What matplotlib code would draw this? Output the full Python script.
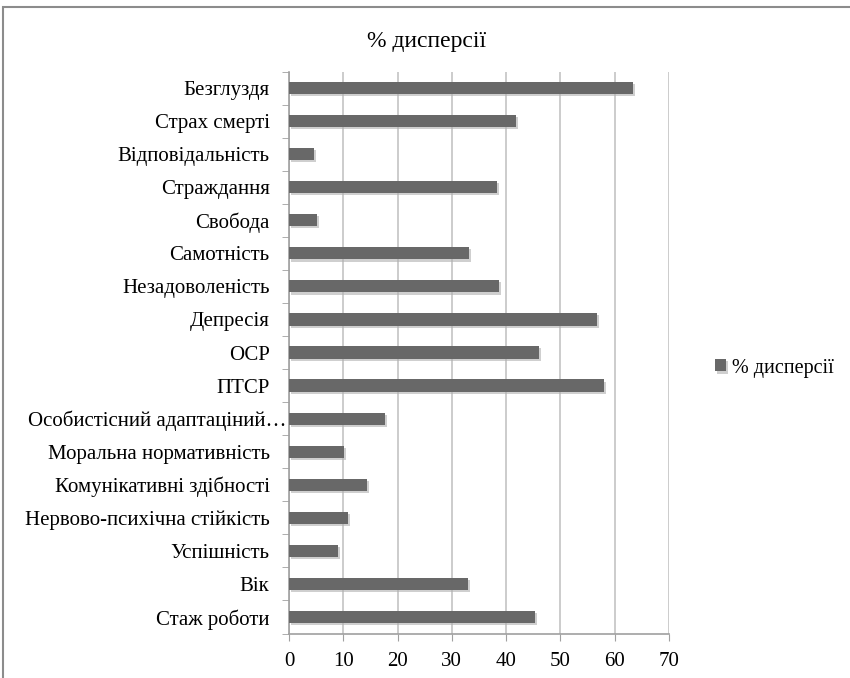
import matplotlib
matplotlib.use("Agg")
import matplotlib.pyplot as plt
import matplotlib.patheffects as pe
from matplotlib.patches import Rectangle
from matplotlib.ticker import FixedLocator

plt.rcParams['font.family'] = ['Liberation Serif', 'DejaVu Serif']

# data (top to bottom as shown)
categories = [
    "Безглуздя", "Страх смерті", "Відповідальність", "Страждання", "Свобода",
    "Самотність", "Незадоволеність", "Депресія", "ОСР", "ПТСР",
    "Особистісний адаптаціний…", "Моральна нормативність",
    "Комунікативні здібності", "Нервово-психічна стійкість", "Успішність",
    "Вік", "Стаж роботи",
]
values = [63.3, 41.8, 4.6, 38.3, 5.2, 33.2, 38.7, 56.8, 46.1, 58.0,
          17.7, 10.1, 14.4, 10.8, 9.1, 33.0, 45.3]
xticks = [0, 10, 20, 30, 40, 50, 60, 70]
series_name = "% дисперсії"

fig = plt.figure(figsize=(8.5, 6.78), dpi=100)
ax = fig.add_axes([289/850, 1 - 633.5/678, 380/850, (633.5 - 71.5)/678])

# outer chart frame
fig.patches.append(Rectangle((3/850, -0.1), 1.2, 1 - 7/678 + 0.1,
                             transform=fig.transFigure, fill=False,
                             edgecolor='#8c8c8c', lw=1.5))

n = len(categories)
ypos = list(range(n))[::-1]
bars = ax.barh(ypos, values, height=0.37, color='#686868', label=series_name,
               zorder=3)
for b in bars:
    b.set_path_effects([pe.SimplePatchShadow(offset=(1.5, -1.5),
                                             shadow_rgbFace='#b0b0b0', alpha=0.6),
                        pe.Normal()])

ax.set_xlim(0, 70)
ax.set_ylim(-0.5, n - 0.5)
ax.set_xticks(xticks)
ax.set_yticks(ypos)
ax.set_yticklabels(categories, fontsize=15)
ax.tick_params(axis='y', which='major', length=0, pad=14)
# truncated label runs up to the axis line
ax.yaxis.get_major_ticks()[categories.index("Особистісний адаптаціний…")].set_pad(1.5)
ax.yaxis.set_minor_locator(FixedLocator([i - 0.5 for i in range(n + 1)]))
ax.tick_params(axis='y', which='minor', length=5, color='#a0a0a0', direction='out')
ax.tick_params(axis='x', length=5, color='#a0a0a0', labelsize=15, pad=8)
ax.grid(axis='x', color='#c4c4c4', lw=1.2, zorder=0)

for s in ['top', 'right']:
    ax.spines[s].set_visible(False)
for s in ['left', 'bottom']:
    ax.spines[s].set_color('#a0a0a0')
    ax.spines[s].set_linewidth(1.2)

fig.text(427/850, 1 - 42/678, "% дисперсії", ha='center', va='center', fontsize=17)

leg = fig.legend(loc='center left', bbox_to_anchor=(697/850, 1 - 368/678),
                 frameon=False, fontsize=14.5, handlelength=0.55, handleheight=0.55,
                 handletextpad=0.3)

fig.savefig("out.png", dpi=100)
